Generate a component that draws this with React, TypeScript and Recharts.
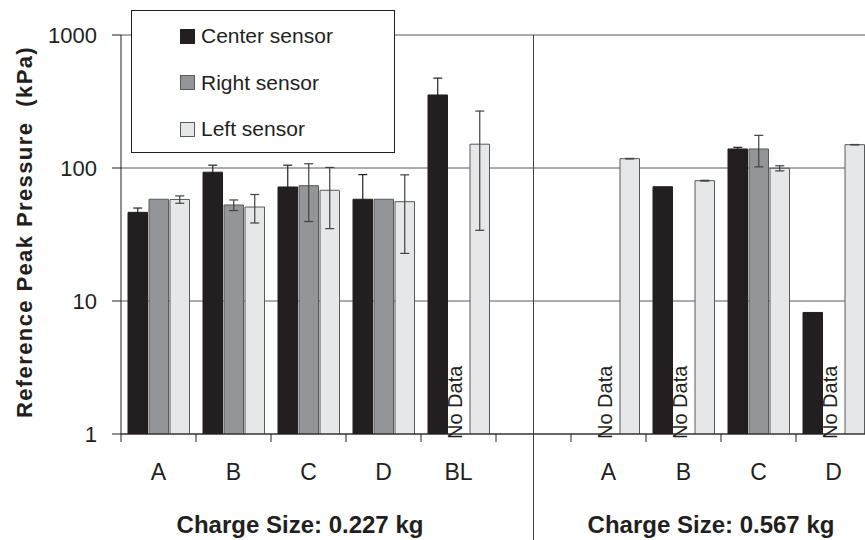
import React from "react";
import {
  BarChart,
  Bar,
  XAxis,
  YAxis,
  CartesianGrid,
  ErrorBar,
  ReferenceLine,
  Legend,
} from "recharts";

// slot keys, one per category band (the "gap" slot separates the two charge sizes)
const categoryKeys = ["A1", "B1", "C1", "D1", "BL1", "gap", "A2", "B2", "C2", "D2"];
const tickLabels = ["A", "B", "C", "D", "BL", "", "A", "B", "C", "D"];

// peak pressure (kPa) and error (+/-)
const centerValues = [46.4, 93, 72, 58.2, 354, null, 1, 72.3, 139, 8.2];
const centerErrors = [3.6, 12, 33, 31, 120, null, 0, 0, 4, 0];
const rightValues = [58.2, 52.7, 73.6, 58.2, null, null, null, null, 139, null];
const rightErrors = [0, 4.8, 34, 0, null, null, null, null, 37, null];
const leftValues = [58, 50.9, 68, 55.8, 151, null, 117.5, 80.3, 99.5, 149.7];
const leftErrors = [3.7, 12.3, 33, 33, 117, null, 0.5, 0.5, 4.4, 0.5];

const groupLabels = ["Charge Size: 0.227 kg", "Charge Size: 0.567 kg"];
const yTicks = [1, 10, 100, 1000];

const FONT = "'Liberation Sans', Arial, Helvetica, sans-serif";
const INK = "#231f20";

const series = [
  { key: "center", name: "Center sensor", fill: "#231f20", stroke: "#231f20", err: "#231f20" },
  { key: "right", name: "Right sensor", fill: "#939598", stroke: "#58595b", err: "#414042" },
  { key: "left", name: "Left sensor", fill: "#e6e7e8", stroke: "#58595b", err: "#414042" },
];

const data = categoryKeys.map((key, i) => ({
  key,
  center: centerValues[i],
  centerErr: centerErrors[i],
  right: rightValues[i],
  rightErr: rightErrors[i],
  left: leftValues[i],
  leftErr: leftErrors[i],
}));

const CategoryTick = (props: any) => {
  const { x, y, payload } = props;
  const i = categoryKeys.indexOf(payload.value);
  const half = payload.offset ?? 0;
  const label = tickLabels[i];
  const noData = label !== "" && rightValues[i] == null;
  return (
    <g>
      <line x1={x - half} y1={y} x2={x - half} y2={y + 8} stroke={INK} />
      {label === "" && (
        <line x1={x} y1={y} x2={x} y2={y + 110} stroke="#414042" />
      )}
      <text x={x} y={y + 46} textAnchor="middle" fontSize={23} fill={INK} fontFamily={FONT}>
        {label}
      </text>
      {noData && (
        <text
          x={x + 3.5}
          y={y + 5}
          transform={`rotate(-90 ${x + 3.5} ${y + 5})`}
          fontSize={20}
          fill={INK}
          fontFamily={FONT}
        >
          No Data
        </text>
      )}
    </g>
  );
};

const LegendBox = () => (
  <div
    style={{
      width: 262,
      height: 141,
      border: `1px solid ${INK}`,
      background: "#fff",
      position: "relative",
      fontFamily: FONT,
    }}
  >
    {series.map((s, i) => (
      <div
        key={s.key}
        style={{
          position: "absolute",
          left: 48,
          top: 10 + i * 46.5,
          display: "flex",
          alignItems: "center",
          height: 30,
        }}
      >
        <span
          style={{
            display: "inline-block",
            width: 13,
            height: 13,
            background: s.fill,
            border: `1px solid ${s.stroke}`,
            marginRight: 6,
          }}
        />
        <span style={{ fontSize: 21, color: INK }}>{s.name}</span>
      </div>
    ))}
  </div>
);

export default function App() {
  return (
    <div
      style={{
        position: "absolute",
        left: 0,
        top: 0,
        width: 865,
        height: 540,
        overflow: "hidden",
        background: "#fff",
        fontFamily: FONT,
      }}
    >
      <BarChart
        width={880}
        height={540}
        data={data}
        margin={{ top: 35, right: 9, left: 0, bottom: 0 }}
        barSize={19.5}
        barGap={1.5}
      >
        <CartesianGrid vertical={false} stroke="#58595b" />
        <XAxis
          dataKey="key"
          height={106}
          interval={0}
          tickLine={false}
          tickSize={0}
          tickMargin={0}
          axisLine={{ stroke: INK }}
          tick={<CategoryTick />}
        />
        <YAxis
          type="number"
          scale="log"
          domain={[1, 1000]}
          ticks={yTicks}
          allowDataOverflow
          width={121}
          tickSize={9}
          tickMargin={15}
          axisLine={{ stroke: INK }}
          tickLine={{ stroke: INK }}
          tick={{ fontSize: 22, fill: INK, fontFamily: FONT }}
          label={{
            content: () => (
              <text
                x={32}
                y={232}
                transform="rotate(-90 32 232)"
                textAnchor="middle"
                fontSize={22}
                fontWeight="bold"
                letterSpacing={1.4}
                fill={INK}
                fontFamily={FONT}
              >
                Reference Peak Pressure {"\u00a0"}(kPa)
              </text>
            ),
          }}
        />
        <Legend
          layout="horizontal"
          verticalAlign="middle"
          align="center"
          wrapperStyle={{ top: 10, left: 131, width: 264 }}
          content={() => <LegendBox />}
        />
        {series.map((s) => (
          <Bar
            key={s.key}
            dataKey={s.key}
            name={s.name}
            fill={s.fill}
            stroke={s.stroke}
            strokeWidth={1}
            isAnimationActive={false}
          >
            <ErrorBar
              dataKey={`${s.key}Err`}
              width={4.5}
              stroke={s.err}
              strokeWidth={1.2}
              direction="y"
            />
          </Bar>
        ))}
        <ReferenceLine x="gap" stroke="#414042" />
      </BarChart>
      <div
        style={{
          position: "absolute",
          left: 150,
          width: 300,
          top: 511,
          textAlign: "center",
          fontSize: 24,
          fontWeight: "bold",
          color: INK,
        }}
      >
        {groupLabels[0]}
      </div>
      <div
        style={{
          position: "absolute",
          left: 561,
          width: 300,
          top: 511,
          textAlign: "center",
          fontSize: 24,
          fontWeight: "bold",
          color: INK,
        }}
      >
        {groupLabels[1]}
      </div>
    </div>
  );
}
